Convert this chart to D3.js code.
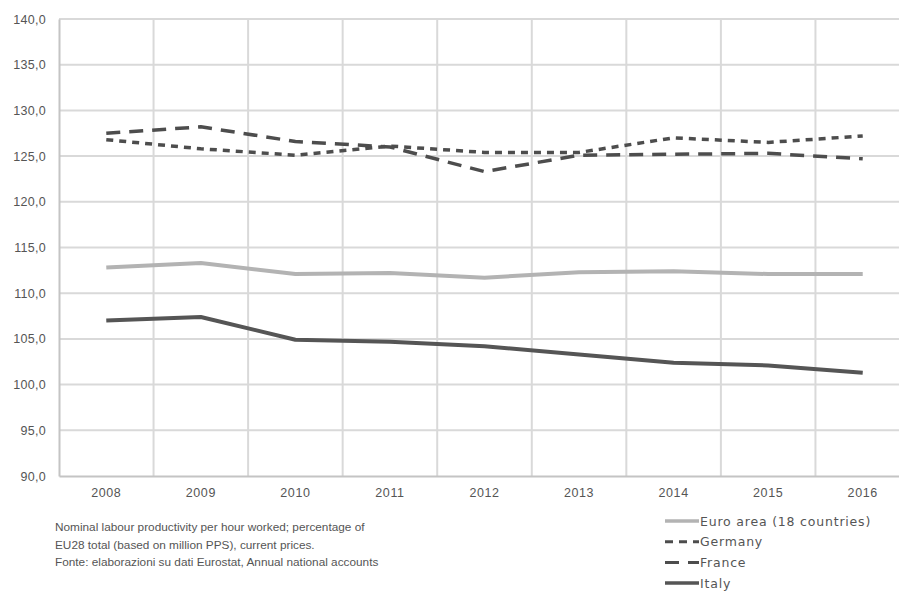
<!DOCTYPE html>
<html>
<head>
<meta charset="utf-8">
<script src="https://cdn.jsdelivr.net/npm/d3@7"></script>
<style>
  html, body { margin: 0; padding: 0; background: #fff; }
  svg { display: block; font-family: "Liberation Sans", "DejaVu Sans", sans-serif; }
</style>
</head>
<body>
<svg id="chart" width="899" height="591"></svg>
<script>
// Years on the category axis
const years = ["2008", "2009", "2010", "2011", "2012", "2013", "2014", "2015", "2016"];

// Labour productivity per hour worked, EU28 = 100
const euroArea = [112.8, 113.3, 112.1, 112.2, 111.7, 112.3, 112.4, 112.1, 112.1];
const germany  = [126.8, 125.8, 125.1, 126.1, 125.4, 125.4, 127.0, 126.5, 127.2];
const france   = [127.5, 128.2, 126.6, 126.0, 123.3, 125.1, 125.2, 125.3, 124.7];
const italy    = [107.0, 107.4, 104.9, 104.7, 104.2, 103.3, 102.4, 102.1, 101.3];

const seriesNames = ["Euro area (18 countries)", "Germany", "France", "Italy"];
const yTicks = [90, 95, 100, 105, 110, 115, 120, 125, 130, 135, 140];

const footnote = [
  "Nominal labour productivity per hour worked; percentage of",
  "EU28 total (based on million PPS), current prices.",
  "Fonte: elaborazioni su dati Eurostat, Annual national accounts"
];

const styles = [
  { values: euroArea, color: "#b3b3b3", width: 4,   dash: null,   legendDash: null },
  { values: germany,  color: "#4d4d4d", width: 3.5, dash: "7,6",  legendDash: "8,6" },
  { values: france,   color: "#4d4d4d", width: 3.5, dash: "14,9", legendDash: "14,9" },
  { values: italy,    color: "#555555", width: 4,   dash: null,   legendDash: null }
];

const svg = d3.select("#chart");
const plotLeft = 59, plotTop = 19, plotBottom = 476, plotRight = 910;

const x = d3.scaleBand().domain(years).range([plotLeft, plotRight]);
const y = d3.scaleLinear().domain([90, 140]).range([plotBottom, plotTop]);
const fmt = v => d3.format(".1f")(v).replace(".", ",");

// Horizontal gridlines
svg.append("g").selectAll("line").data(yTicks.filter(t => t > 90)).join("line")
  .attr("x1", plotLeft).attr("x2", plotRight)
  .attr("y1", d => y(d)).attr("y2", d => y(d))
  .attr("stroke", "#d9d9d9").attr("stroke-width", 2);

// Vertical gridlines at category boundaries
svg.append("g").selectAll("line").data(years.slice(1)).join("line")
  .attr("x1", d => x(d)).attr("x2", d => x(d))
  .attr("y1", plotTop).attr("y2", plotBottom)
  .attr("stroke", "#d9d9d9").attr("stroke-width", 2);

// Y axis
const yAxis = svg.append("g").attr("transform", `translate(${plotLeft},0)`)
  .call(d3.axisLeft(y).tickValues(yTicks).tickFormat(fmt).tickSize(0).tickPadding(13));
yAxis.attr("font-size", null);
yAxis.select(".domain").attr("stroke", "#c4c4c4").attr("stroke-width", 2);
yAxis.selectAll("text").attr("fill", "#555")
  .style("font-size", "12.5px").attr("letter-spacing", 0.3);

// X axis
const xAxis = svg.append("g").attr("transform", `translate(0,${plotBottom})`)
  .call(d3.axisBottom(x).tickSize(0).tickPadding(12));
xAxis.attr("font-size", null);
xAxis.select(".domain").attr("stroke", "#c4c4c4").attr("stroke-width", 2);
xAxis.selectAll("text").attr("fill", "#555")
  .style("font-size", "12.5px").attr("letter-spacing", 0.6);

// Series lines
const line = d3.line()
  .x((d, i) => x(years[i]) + x.bandwidth() / 2)
  .y(d => y(d));

svg.append("g").selectAll("path").data(styles).join("path")
  .attr("d", d => line(d.values))
  .attr("fill", "none")
  .attr("stroke", d => d.color)
  .attr("stroke-width", d => d.width)
  .attr("stroke-dasharray", d => d.dash)
  .attr("stroke-linejoin", "round");

// Footnote
svg.append("g").selectAll("text").data(footnote).join("text")
  .attr("x", 55)
  .attr("y", (d, i) => 531 + i * 17.5)
  .attr("fill", "#555")
  .attr("font-size", 11.8)
  .text(d => d);

// Legend
const legend = svg.append("g").selectAll("g").data(styles).join("g")
  .attr("transform", (d, i) => `translate(665,${521 + i * 20.7})`);
legend.append("line")
  .attr("x1", 0).attr("x2", 34).attr("y1", 0).attr("y2", 0)
  .attr("stroke", d => d.color)
  .attr("stroke-width", d => d.width - 0.5)
  .attr("stroke-dasharray", d => d.legendDash);
legend.append("text")
  .attr("x", 35).attr("y", 4.5)
  .attr("fill", "#555")
  .attr("font-family", "'DejaVu Sans', sans-serif")
  .attr("font-size", 12.5)
  .attr("letter-spacing", 0.8)
  .text((d, i) => seriesNames[i]);
</script>
</body>
</html>
